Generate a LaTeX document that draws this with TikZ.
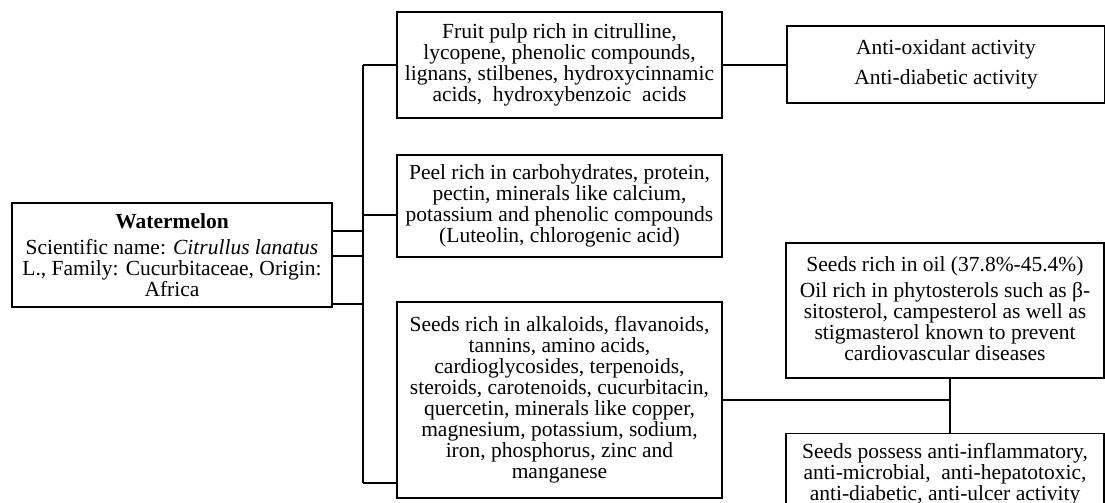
\documentclass[tikz,border=0pt]{standalone}
\usepackage{fontspec}
\setmainfont{Liberation Serif}
\begin{document}
\begin{tikzpicture}[x=1pt,y=-1pt,
  box/.style={draw, line width=1.2pt, align=center, inner sep=0pt, font=\fontsize{21.5}{21}\selectfont},
  conn/.style={line width=1.2pt}]
\useasboundingbox (0,0) rectangle (1105,503);
% boxes
\node[box, minimum width=320pt, minimum height=104pt] (wm) at (172,255)
  {\textbf{Watermelon}\\[5pt]
   Scientific name: \textit{Citrullus lanatus}\\
   L., Family: Cucurbitaceae, Origin:\\
   Africa};
\node[box, minimum width=325pt, minimum height=106pt] (fp) at (559.5,65)
  {Fruit pulp rich in citrulline,\\
   lycopene, phenolic compounds,\\
   lignans, stilbenes, hydroxycinnamic\\
   acids,\ \ hydroxybenzoic\ \ acids};
\node[box, minimum width=325pt, minimum height=102pt] (peel) at (559.5,206)
  {Peel rich in carbohydrates, protein,\\
   pectin, minerals like calcium,\\
   potassium and phenolic compounds\\
   (Luteolin, chlorogenic acid)};
\node[box, minimum width=325pt, minimum height=196pt] (seeds) at (559.5,400)
  {Seeds rich in alkaloids, flavanoids,\\
   tannins, amino acids,\\
   cardioglycosides, terpenoids,\\
   steroids, carotenoids, cucurbitacin,\\
   quercetin, minerals like copper,\\
   magnesium, potassium, sodium,\\
   iron, phosphorus, zinc and\\
   manganese};
\node[box, minimum width=318pt, minimum height=77pt] (anti) at (946,64.5)
  {Anti-oxidant activity\\[9pt]
   Anti-diabetic activity};
\node[box, minimum width=318pt, minimum height=135pt] (oil) at (945,310.5)
  {Seeds rich in oil (37.8\%-45.4\%)\\[5pt]
   Oil rich in phytosterols such as β-\\
   sitosterol, campesterol as well as\\
   stigmasterol known to prevent\\
   cardiovascular diseases\rule[-4pt]{0pt}{4pt}};
\node[box, minimum width=318pt, minimum height=76pt, anchor=north] (ai) at (945,433)
  {\rule{0pt}{21pt}Seeds possess anti-inflammatory,\\
   anti-microbial,\ \ anti-hepatotoxic,\\
   anti-diabetic, anti-ulcer activity\rule[-6pt]{0pt}{6pt}};
% connector points
\coordinate (bt) at (363,65);
\coordinate (bp) at (363,215);
\coordinate (bs) at (363,483);
\coordinate (w1) at (363,231);
\coordinate (w2) at (363,256);
\coordinate (w3) at (363,304);
\coordinate (sj) at (950,400);
% bus
\draw[conn] (bt) -- (bs);
\draw[conn] (bt) -- (fp.west);
\draw[conn] (bp) -- (bp -| peel.west);
\draw[conn] (bs) -- (bs -| seeds.west);
\draw[conn] (wm.east |- w1) -- (w1);
\draw[conn] (wm.east |- w2) -- (w2);
\draw[conn] (wm.east |- w3) -- (w3);
% right connectors
\draw[conn] (fp.east) -- (fp.east -| anti.west);
\draw[conn] (seeds.east |- sj) -- (sj);
\draw[conn] (sj |- oil.south) -- (sj |- ai.north);
\end{tikzpicture}
\end{document}
